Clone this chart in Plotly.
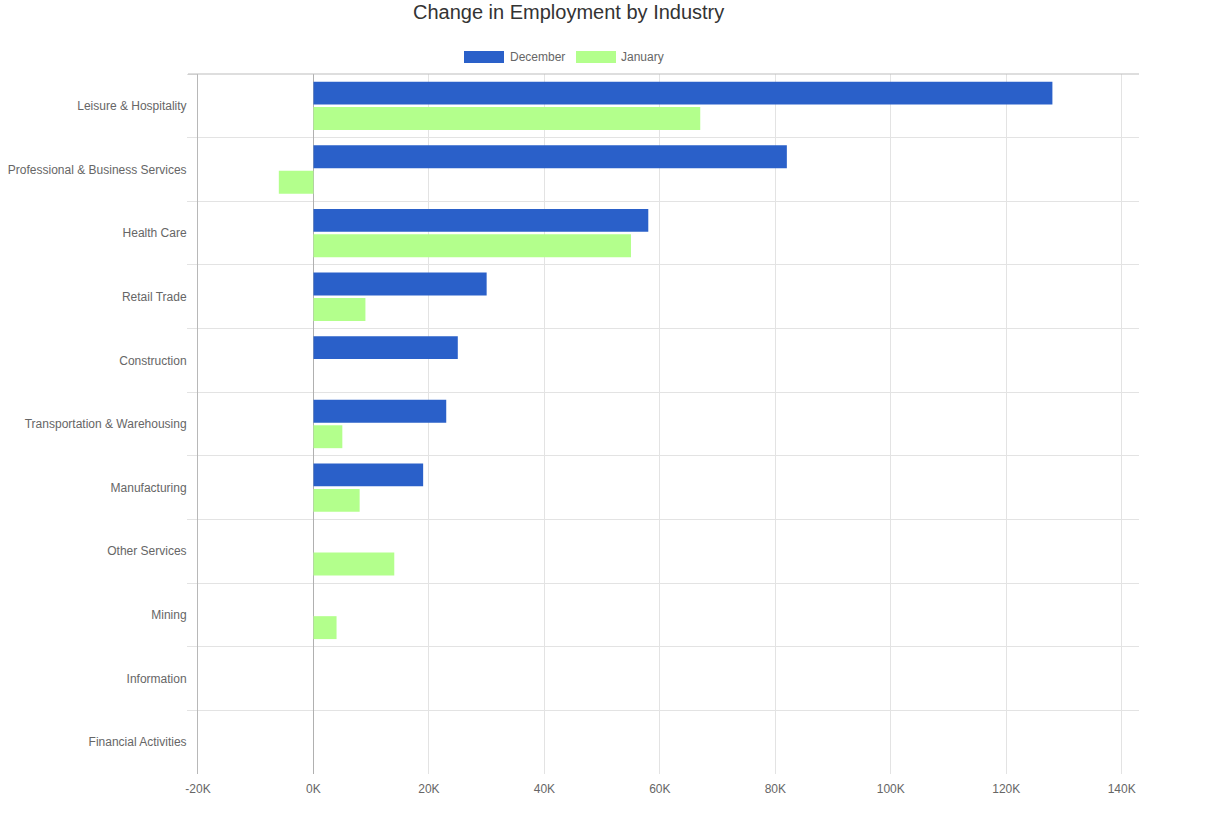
import plotly.graph_objects as go

industries = [
    "Leisure & Hospitality",
    "Professional & Business Services",
    "Health Care",
    "Retail Trade",
    "Construction",
    "Transportation & Warehousing",
    "Manufacturing",
    "Other Services",
    "Mining",
    "Information",
    "Financial Activities",
]
december = [128000, 82000, 58000, 30000, 25000, 23000, 19000, 0, 0, 0, 0]
january = [67000, -6000, 55000, 9000, 0, 5000, 8000, 14000, 4000, 0, 0]
x_tick_values = [-20000, 0, 20000, 40000, 60000, 80000, 100000, 120000, 140000]
x_tick_labels = ["-20K", "0K", "20K", "40K", "60K", "80K", "100K", "120K", "140K"]
series_names = ["December", "January"]

BLUE = "#2a60c9"
GREEN = "#b3ff8c"
FONT = "Arial, Liberation Sans, Helvetica, sans-serif"

W, H = 1220, 838
L, R, T, B = 198, 1139, 74, 774

fig = go.Figure()
fig.add_trace(go.Bar(y=industries, x=december, name=series_names[0], orientation="h",
                     marker=dict(color=BLUE, line=dict(width=0)),
                     showlegend=False))
fig.add_trace(go.Bar(y=industries, x=january, name=series_names[1], orientation="h",
                     marker=dict(color=GREEN, line=dict(width=0)),
                     showlegend=False))

def px(x):
    return (x - L) / (R - L)

def py(y):
    return (B - y) / (B - T)

shapes = [
    dict(type="line", xref="paper", yref="paper", x0=px(188), x1=1, y0=1, y1=1,
         line=dict(color="#bdbdbd", width=1)),
    dict(type="rect", xref="paper", yref="paper", x0=px(464), x1=px(504), y0=py(63), y1=py(51),
         fillcolor=BLUE, line=dict(width=0)),
    dict(type="rect", xref="paper", yref="paper", x0=px(576), x1=px(616), y0=py(63), y1=py(51),
         fillcolor=GREEN, line=dict(width=0)),
]
annotations = [
    dict(text="Change in Employment by Industry", xref="paper", yref="paper",
         x=px(568), y=py(12), xanchor="center", yanchor="middle", showarrow=False,
         font=dict(family=FONT, size=20, color="#333333")),
    dict(text=series_names[0], xref="paper", yref="paper", x=px(508), y=py(57),
         xanchor="left", yanchor="middle", showarrow=False,
         font=dict(family=FONT, size=12, color="#666666")),
    dict(text=series_names[1], xref="paper", yref="paper", x=px(619), y=py(57),
         xanchor="left", yanchor="middle", showarrow=False,
         font=dict(family=FONT, size=12, color="#666666")),
]

fig.update_layout(
    width=W, height=H,
    margin=dict(l=L, r=W - R, t=T, b=H - B, pad=0, autoexpand=False),
    paper_bgcolor="white", plot_bgcolor="white",
    barmode="group", bargap=0.2, bargroupgap=0.1,
    font=dict(family=FONT, size=12, color="#666666"),
    shapes=shapes, annotations=annotations,
    xaxis=dict(range=[-20000, 143000], tickvals=x_tick_values, ticktext=x_tick_labels,
               showgrid=True, gridcolor="#e3e3e3", gridwidth=1,
               zeroline=True, zerolinecolor="#b0b0b0", zerolinewidth=1,
               showline=False, ticks="outside", ticklen=4, tickcolor="rgba(0,0,0,0)",
               automargin=False,
               tickfont=dict(size=12, color="#666666"), fixedrange=True),
    yaxis=dict(type="category", categoryorder="array", categoryarray=industries,
               autorange="reversed", tickson="boundaries", showgrid=True,
               gridcolor="#e3e3e3", gridwidth=1, ticks="outside", ticklen=10,
               tickcolor="#e3e3e3", showline=True, linecolor="#b8b8b8", linewidth=1,
               ticklabelstandoff=8, automargin=False,
               tickfont=dict(size=12, color="#666666"), fixedrange=True),
)

fig.write_html("out.html")
